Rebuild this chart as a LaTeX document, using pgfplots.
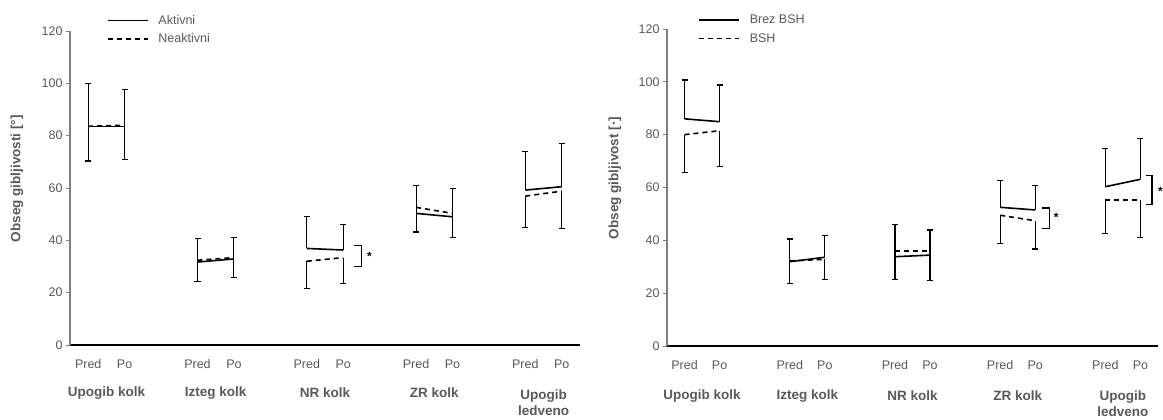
\documentclass[border=0pt]{standalone}
\usepackage{fontspec}
\setmainfont{Liberation Sans}
\usepackage{pgfplots}
\pgfplotsset{compat=1.18}
\definecolor{txt}{HTML}{595959}
\definecolor{yax}{HTML}{7F7F7F}
\tikzset{grp/.style={font=\bfseries\fontsize{13.5}{15.5}\selectfont, text=txt, align=center}}
\pgfplotsset{
 myaxis/.style={
  scale only axis,
  xmin=-0.5, xmax=13.5, ymin=0, ymax=120,
  axis lines*=left,
  xtick={0,1,3,4,6,7,9,10,12,13},
  xticklabels={Pred,Po,Pred,Po,Pred,Po,Pred,Po,Pred,Po},
  ytick={0,20,...,120},
  major tick length=4pt,
  xtick style={draw=none},
  ytick style={yax, line width=0.8pt},
  tick align=outside,
  x axis line style={black, line width=1.3pt},
  y axis line style={yax, line width=1.3pt},
  tick label style={font=\fontsize{12.5}{14}\selectfont, text=txt},
  /pgf/number format/assume math mode=true,
  xticklabel style={yshift=-7pt},
  ylabel style={font=\bfseries\fontsize{13.5}{15}\selectfont, text=txt},
  clip=false,
  legend style={draw=none, fill=none, font=\fontsize{12.5}{14}\selectfont, text=txt, anchor=north west, row sep=4pt, cells={anchor=west}},
  legend image code/.code={\draw[#1] (0pt,0pt) -- (40pt,0pt); \path (48pt,0pt);},
 },
 sol/.style={black, line width=1.6pt, mark=none,
   error bars/y dir=plus, error bars/y explicit,
   error bars/error bar style={solid, line width=1.1pt, black},
   error bars/error mark options={solid, line width=1.1pt, mark size=3pt, rotate=90}},
 das/.style={black, line width=1.6pt, mark=none, dash pattern=on 5pt off 4pt,
   error bars/y dir=minus, error bars/y explicit,
   error bars/error bar style={solid, line width=1.1pt, black},
   error bars/error mark options={solid, line width=1.1pt, mark size=3pt, rotate=90}},
}
\begin{document}
\begin{tikzpicture}[x=1pt,y=1pt]
\useasboundingbox (0,0) rectangle (1163,420);
% ---------------- left chart ----------------
\begin{axis}[myaxis, at={(70pt,75pt)}, anchor=south west, width=510pt, height=314pt,
  ylabel={Obseg gibljivosti [°]},
  ylabel style={at={(axis description cs:-0.104,0.53)}, anchor=center},
  legend style={at={(axis description cs:0.066,1.064)}}]
\addplot[sol] coordinates {(0,83.5) +- (0,16.3) (1,83.5) +- (0,14.2)};
\addlegendentry{Aktivni}
\addplot[das] coordinates {(0,83.6) +- (0,13.3) (1,84.0) +- (0,13.2)};
\addlegendentry{Neaktivni}
\addplot[forget plot, sol] coordinates {(3,31.7) +- (0,8.9) (4,32.9) +- (0,8.1)};
\addplot[forget plot, das] coordinates {(3,32.4) +- (0,8.3) (4,33.4) +- (0,7.7)};
\addplot[forget plot, sol] coordinates {(6,36.9) +- (0,12.1) (7,36.3) +- (0,9.7)};
\addplot[forget plot, das] coordinates {(6,32.0) +- (0,10.5) (7,33.4) +- (0,10.0)};
\addplot[forget plot, sol] coordinates {(9,50.3) +- (0,10.8) (10,49.0) +- (0,10.7)};
\addplot[forget plot, das] coordinates {(9,52.6) +- (0,9.4) (10,50.3) +- (0,9.3)};
\addplot[forget plot, sol] coordinates {(12,59.2) +- (0,14.7) (13,60.5) +- (0,16.4)};
\addplot[forget plot, das] coordinates {(12,56.9) +- (0,11.9) (13,58.8) +- (0,14.3)};
\draw[black, line width=1.3pt] (axis cs:7.3,38) -- (axis cs:7.5,38) -- (axis cs:7.5,30) -- (axis cs:7.3,30);
\node[font=\bfseries\fontsize{12}{14}\selectfont] at (axis cs:7.72,34) {*};
\node[grp] at (axis cs:0.5,-18.3) {Upogib kolk};
\node[grp] at (axis cs:3.5,-18.3) {Izteg kolk};
\node[grp] at (axis cs:6.5,-18.3) {NR kolk};
\node[grp] at (axis cs:9.5,-18.3) {ZR kolk};
\node[grp] at (axis cs:12.5,-22.0) {Upogib\\ledveno};
\end{axis}
% ---------------- right chart ----------------
\begin{axis}[myaxis, at={(667pt,74pt)}, anchor=south west, width=491pt, height=317pt,
  ylabel={Obseg gibljivost [·]},
  ylabel style={at={(axis description cs:-0.106,0.53)}, anchor=center},
  legend style={at={(axis description cs:0.057,1.057)}}]
\addplot[sol] coordinates {(0,86.0) +- (0,14.7) (1,84.9) +- (0,13.9)};
\addlegendentry{Brez BSH}
\addplot[das] coordinates {(0,80.0) +- (0,14.3) (1,81.5) +- (0,13.6)};
\addlegendentry{BSH}
\addplot[forget plot, sol] coordinates {(3,31.9) +- (0,8.6) (4,33.6) +- (0,8.3)};
\addplot[forget plot, das] coordinates {(3,32.2) +- (0,8.6) (4,32.8) +- (0,7.7)};
\addplot[forget plot, sol] coordinates {(6,33.8) +- (0,12.1) (7,34.4) +- (0,9.5)};
\addplot[forget plot, das] coordinates {(6,36.0) +- (0,10.8) (7,36.0) +- (0,11.3)};
\addplot[forget plot, sol] coordinates {(9,52.5) +- (0,10.0) (10,51.5) +- (0,9.3)};
\addplot[forget plot, das] coordinates {(9,49.5) +- (0,10.8) (10,47.4) +- (0,10.7)};
\addplot[forget plot, sol] coordinates {(12,60.3) +- (0,14.3) (13,63.1) +- (0,15.4)};
\addplot[forget plot, das] coordinates {(12,55.3) +- (0,12.8) (13,55.3) +- (0,14.3)};
\draw[black, line width=1.3pt] (axis cs:10.2,52.2) -- (axis cs:10.4,52.2) -- (axis cs:10.4,44.4) -- (axis cs:10.2,44.4);
\node[font=\bfseries\fontsize{12}{14}\selectfont] at (axis cs:10.6,48.7) {*};
\draw[black, line width=1.3pt] (axis cs:13.16,64.5) -- (axis cs:13.33,64.5) -- (axis cs:13.33,53.6) -- (axis cs:13.16,53.6);
\node[font=\bfseries\fontsize{12}{14}\selectfont] at (axis cs:13.57,58.6) {*};
\node[grp] at (axis cs:0.5,-18.9) {Upogib kolk};
\node[grp] at (axis cs:3.5,-18.9) {Izteg kolk};
\node[grp] at (axis cs:6.5,-18.9) {NR kolk};
\node[grp] at (axis cs:9.5,-18.9) {ZR kolk};
\node[grp] at (axis cs:12.5,-21.9) {Upogib\\ledveno};
\end{axis}
\end{tikzpicture}
\end{document}
